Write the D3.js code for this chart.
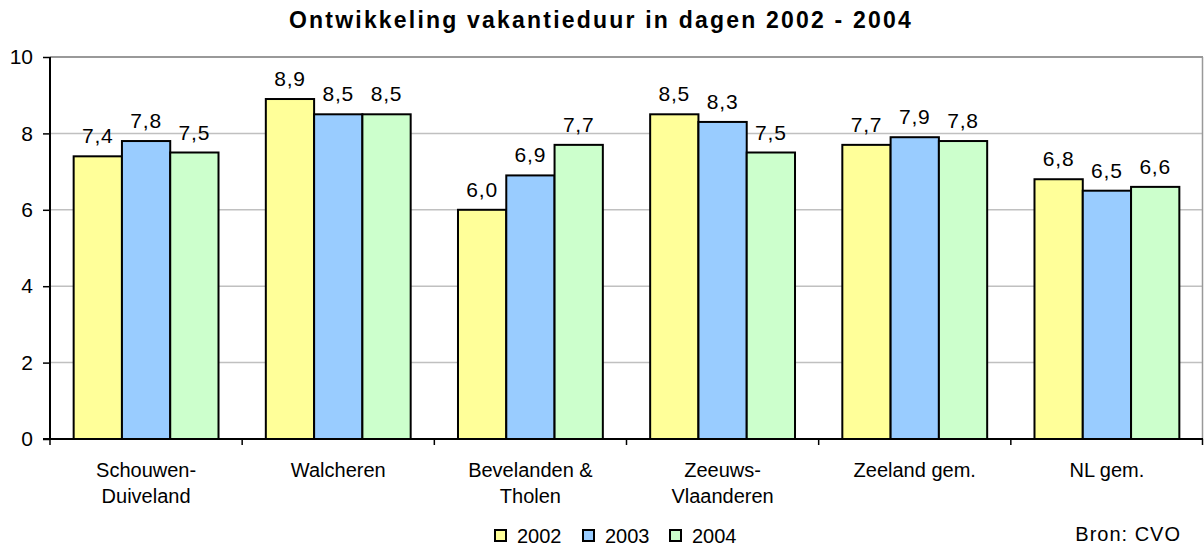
<!DOCTYPE html>
<html>
<head>
<meta charset="utf-8">
<script src="https://cdn.jsdelivr.net/npm/d3@7"></script>
<style>
  body { margin: 0; background: #fff; }
  svg { display: block; font-family: "Liberation Sans", Arial, sans-serif; }
</style>
</head>
<body>
<svg id="chart" width="1204" height="546"></svg>
<script>
const categories = [["Schouwen-", "Duiveland"], ["Walcheren"], ["Bevelanden &", "Tholen"], ["Zeeuws-", "Vlaanderen"], ["Zeeland gem."], ["NL gem."]];
const years = ["2002", "2003", "2004"];
const values2002 = [7.4, 8.9, 6.0, 8.5, 7.7, 6.8];
const values2003 = [7.8, 8.5, 6.9, 8.3, 7.9, 6.5];
const values2004 = [7.5, 8.5, 7.7, 7.5, 7.8, 6.6];
const yTicks = [0, 2, 4, 6, 8, 10];

const colors = ["#ffff99", "#99ccff", "#ccffcc"];
const series = [values2002, values2003, values2004];

const margin = { top: 57, right: 1, bottom: 107, left: 50 };
const width = 1204 - margin.left - margin.right;
const height = 546 - margin.top - margin.bottom;

const svg = d3.select("#chart");

// title
svg.append("text")
    .attr("x", 601).attr("y", 28)
    .attr("text-anchor", "middle")
    .attr("font-size", 23).attr("font-weight", "bold")
    .attr("letter-spacing", 2.2)
    .text("Ontwikkeling vakantieduur in dagen 2002 - 2004");

const chart = svg.append("g")
    .attr("transform", `translate(${margin.left},${margin.top})`);

const x = d3.scaleBand()
    .domain(d3.range(categories.length))
    .range([0, width])
    .padding(0);

const xInner = d3.scaleBand()
    .domain(years)
    .range([0, x.bandwidth()])
    .paddingInner(0)
    .paddingOuter(0.49);

const y = d3.scaleLinear().domain([0, 10]).range([height, 0]);

// gridlines
chart.append("g").selectAll("line")
    .data(yTicks.filter(d => d > 0))
    .enter().append("line")
    .attr("x1", 0).attr("x2", width)
    .attr("y1", d => y(d)).attr("y2", d => y(d))
    .attr("stroke", d => d === 10 ? "#999" : "#c0c0c0")
    .attr("stroke-width", d => d === 10 ? 2 : 1.5);

// right border of plot
chart.append("line")
    .attr("x1", width - 0.5).attr("x2", width - 0.5)
    .attr("y1", y(10)).attr("y2", height)
    .attr("stroke", "#999").attr("stroke-width", 1.5);

// bars
series.forEach((vals, si) => {
    const g = chart.append("g");
    g.selectAll("rect")
        .data(vals)
        .enter().append("rect")
        .attr("x", (d, i) => x(i) + xInner(years[si]))
        .attr("y", d => y(d))
        .attr("width", xInner.bandwidth())
        .attr("height", d => height - y(d))
        .attr("fill", colors[si])
        .attr("stroke", "#000")
        .attr("stroke-width", 2);
    g.selectAll("text")
        .data(vals)
        .enter().append("text")
        .attr("x", (d, i) => x(i) + xInner(years[si]) + xInner.bandwidth() / 2)
        .attr("y", d => y(d) - 13)
        .attr("text-anchor", "middle")
        .attr("font-size", 21)
        .attr("letter-spacing", 0.8)
        .text(d => d.toFixed(1).replace(".", ","));
});

// y axis
const yAxis = d3.axisLeft(y).tickValues(yTicks).tickSize(7).tickPadding(10);
const yg = chart.append("g").call(yAxis);
yg.select(".domain").attr("stroke", "#000").attr("stroke-width", 2).attr("d", `M0,${height}V0`);
yg.selectAll(".tick line").attr("stroke", "#000").attr("stroke-width", 1.5);
yg.selectAll(".tick text").attr("font-size", 21).attr("fill", "#000")
    .attr("font-family", "Liberation Sans, Arial, sans-serif");

// x axis
chart.append("line")
    .attr("x1", -7).attr("x2", width)
    .attr("y1", height).attr("y2", height)
    .attr("stroke", "#000").attr("stroke-width", 2);
chart.append("g").selectAll("line")
    .data(d3.range(categories.length + 1))
    .enter().append("line")
    .attr("x1", d => d === categories.length ? width - 0.5 : (d === 0 ? 0 : x(d)))
    .attr("x2", d => d === categories.length ? width - 0.5 : (d === 0 ? 0 : x(d)))
    .attr("y1", height).attr("y2", height + 6)
    .attr("stroke", "#000").attr("stroke-width", 1.5);

// category labels
const catLabels = chart.append("g").selectAll("text")
    .data(categories)
    .enter().append("text")
    .attr("x", (d, i) => x(i) + x.bandwidth() / 2)
    .attr("y", height + 38)
    .attr("text-anchor", "middle")
    .attr("font-size", 20);
catLabels.each(function(d) {
    const t = d3.select(this);
    d.forEach((line, li) => {
        t.append("tspan")
            .attr("x", t.attr("x"))
            .attr("dy", li === 0 ? 0 : 26)
            .text(line);
    });
});

// legend
const legendX = [495, 583, 670];
const legend = svg.append("g");
years.forEach((yr, i) => {
    legend.append("rect")
        .attr("x", legendX[i]).attr("y", 530)
        .attr("width", 11).attr("height", 11)
        .attr("fill", colors[i])
        .attr("stroke", "#000").attr("stroke-width", 2);
    legend.append("text")
        .attr("x", legendX[i] + 22).attr("y", 543)
        .attr("font-size", 20)
        .text(yr);
});

// source
svg.append("text")
    .attr("x", 1181).attr("y", 541)
    .attr("text-anchor", "end")
    .attr("font-size", 20)
    .attr("letter-spacing", 1)
    .text("Bron: CVO");
</script>
</body>
</html>
